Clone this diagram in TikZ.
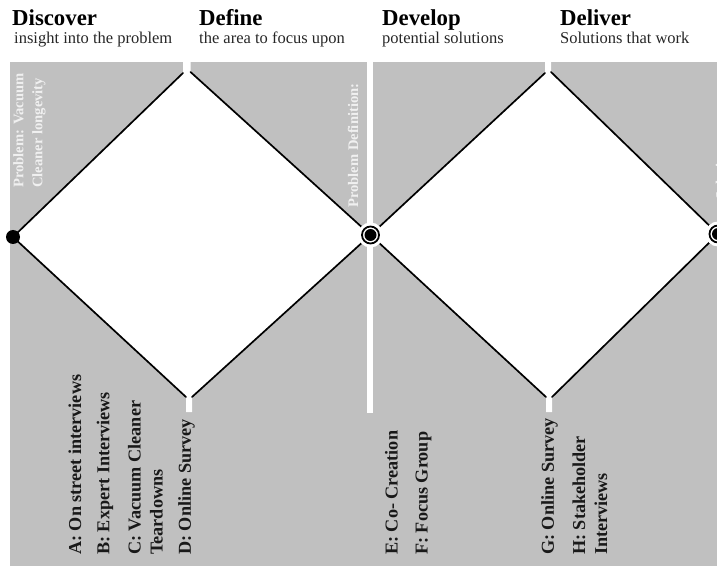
\documentclass[tikz,border=0pt]{standalone}
\usepackage{fontspec}
\setmainfont{Liberation Serif}
\definecolor{panel}{RGB}{192,192,192}
\definecolor{note}{RGB}{240,240,240}
\begin{document}
\begin{tikzpicture}[x=1pt,y=-1pt, line join=round, line cap=round,
	phase/.style={anchor=base west,inner sep=0pt,font=\bfseries\fontsize{22.8}{26}\selectfont},
	aim/.style={anchor=base west,inner sep=0pt,text=black!85,font=\fontsize{16.5}{20}\selectfont},
	method/.style={rotate=90,anchor=west,inner sep=0pt,align=left,text=black!90,font=\bfseries\fontsize{18.2}{22}\selectfont},
	finding/.style={rotate=90,anchor=west,inner sep=0pt,align=left,text=note,font=\bfseries\fontsize{14.6}{19}\selectfont},
	rim/.style={line width=1.7pt}]
	\useasboundingbox (0,0) rectangle (717,569);
	% grey panels
	\fill[panel] (10,62) rectangle (717,566);
	\fill[white] (367,62) rectangle (373,413);
	% vertices of the two diamonds
	\coordinate (start) at (13,237);
	\coordinate (defpt) at (370.5,235);
	\coordinate (endpt) at (718,234);
	\coordinate (a1) at (183,73);   \coordinate (b1) at (190.5,72);
	\coordinate (c1) at (186,397);  \coordinate (d1) at (192,397);
	\coordinate (a2) at (545,73);   \coordinate (b2) at (551,72);
	\coordinate (c2) at (546,397);  \coordinate (d2) at (552,397);
	\fill[white] (start) -- (a1) -- (183,62) -- (190.5,62) -- (b1) -- (defpt)
		-- (d1) -- (192,412) -- (186,412) -- (c1) -- cycle;
	\fill[white] (defpt) -- (a2) -- (545,62) -- (551,62) -- (b2) -- (endpt)
		-- (d2) -- (552,412) -- (546,412) -- (c2) -- cycle;
	\draw[rim] (start) -- (a1) (b1) -- (defpt) -- (d1) (c1) -- (start);
	\draw[rim] (defpt) -- (a2) (b2) -- (endpt) -- (d2) (c2) -- (defpt);
	% markers
	\fill (start) circle (7pt);
	\foreach \p in {defpt,endpt}{
		\fill[white] (\p) circle (12.5pt);
		\draw[line width=1.8pt] (\p) circle (8.5pt);
		\fill (\p) circle (6pt);
	}
	% headings
	\node[phase] (discover) at (12,26) {Discover};
	\node[aim] (discoveraim) at (14,44) {insight into the problem};
	\node[phase] (define) at (199,26) {Define};
	\node[aim] (defineaim) at (199,44) {the area to focus upon};
	\node[phase] (develop) at (382,26) {Develop};
	\node[aim] (developaim) at (382,44) {potential solutions};
	\node[phase] (deliver) at (560,26) {Deliver};
	\node[aim] (deliveraim) at (560,44) {Solutions that work};
	% findings
	\node[finding] (problem) at (29.5,188) {Problem: Vacuum\\Cleaner longevity};
	\node[finding] (definition) at (353,208) {Problem Definition:};
	\node[finding] (solution) at (721,200) {Solution:};
	% methods
	\node[method] (ma) at (75,555) {A: On street interviews};
	\node[method] (mb) at (105,555) {B: Expert Interviews};
	\node[method] (mc) at (145.5,555) {C: Vacuum Cleaner\\Teardowns};
	\node[method] (md) at (186.5,555) {D: Online Survey};
	\node[method] (me) at (391.5,555) {E: Co- Creation};
	\node[method] (mf) at (423.5,555) {F: Focus Group};
	\node[method] (mg) at (549.5,555) {G: Online Survey};
	\node[method] (mh) at (590,555) {H: Stakeholder\\Interviews};
\end{tikzpicture}
\end{document}
